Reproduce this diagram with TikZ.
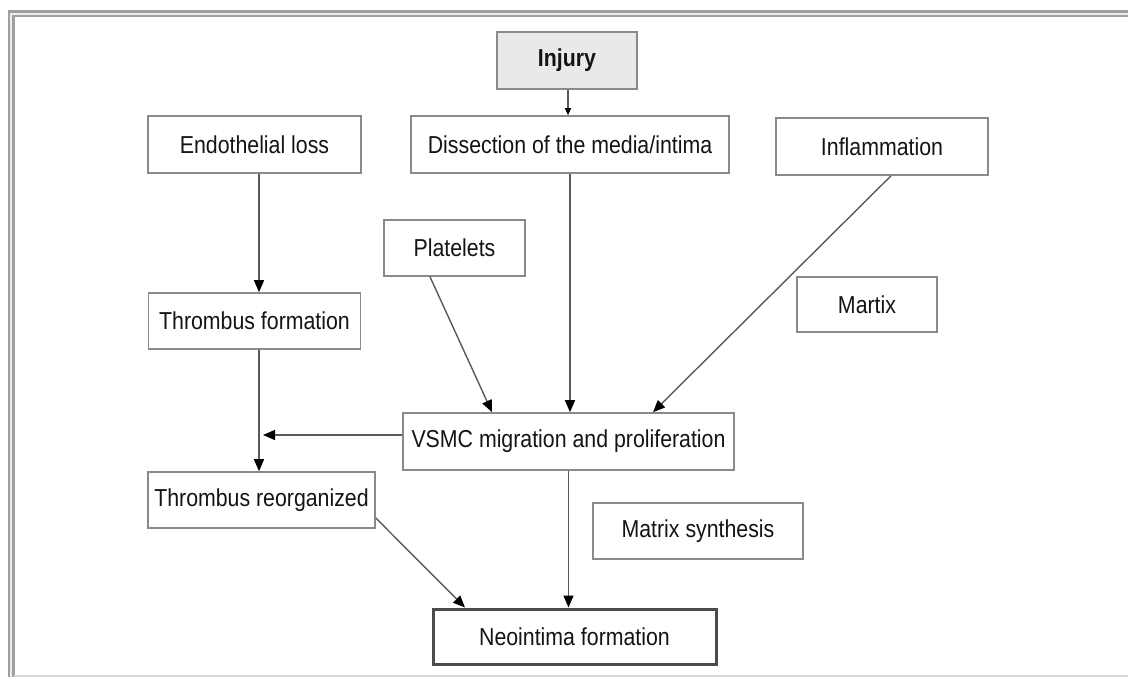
\documentclass[tikz,border=0pt]{standalone}
\usepackage{fontspec}
\setmainfont{Liberation Sans}[FakeStretch=0.87]
\usetikzlibrary{arrows.meta}
\definecolor{boxline}{HTML}{8A8A8A}
\definecolor{arrline}{HTML}{5A5A5A}
\definecolor{txt}{HTML}{141414}
\definecolor{injfill}{HTML}{E9E9E9}
\tikzset{
  box/.style={draw=boxline, line width=1.6pt, fill=white, inner sep=0pt,
    text=txt, font=\fontsize{24.5}{28}\selectfont, align=center},
  arr/.style={draw=arrline, line width=1.4pt, -{Triangle[length=12pt,width=10pt,color=black]}},
  smallarr/.style={draw=arrline, line width=1.4pt, -{Triangle[length=7pt,width=6pt,color=black]}}
}
\begin{document}
\begin{tikzpicture}[x=1pt,y=-1pt]
\useasboundingbox (0,0) rectangle (1128,677);
% frame
\draw[gray!75, line width=7pt] (11,677) -- (11,14) -- (1128,14);
\draw[gray!15, line width=2pt] (11,677) -- (11,14) -- (1128,14);
\draw[gray!30, line width=1.5pt] (14,676) -- (1128,676);
% nodes
\node[box, fill=injfill, minimum width=140, minimum height=57, font=\fontsize{24.5}{28}\selectfont\bfseries] (inj) at (567,60.5) {Injury};
\node[box, minimum width=213, minimum height=57] (endo) at (254.5,144.5) {Endothelial loss};
\node[box, minimum width=318, minimum height=57] (dis) at (570,144.5) {Dissection of the media/intima};
\node[box, minimum width=212, minimum height=57] (infl) at (882,146.5) {Inflammation};
\node[box, minimum width=141, minimum height=56] (plat) at (454.5,248) {Platelets};
\node[box, minimum width=140, minimum height=55] (mart) at (867,304.5) {Martix};
\node[box, minimum width=212, minimum height=56] (tf) at (254.5,321) {Thrombus formation};
\node[box, minimum width=331, minimum height=57] (vsmc) at (568.5,441.5) {VSMC migration and proliferation};
\node[box, minimum width=227, minimum height=56] (tr) at (261.5,500) {Thrombus reorganized};
\node[box, minimum width=210, minimum height=56] (ms) at (698,531) {Matrix synthesis};
\node[box, draw=arrline!85!black, line width=3pt, minimum width=283, minimum height=55] (neo) at (574.5,636.5) {Neointima formation};
% connectors
\coordinate (m) at (263,435);
\draw[smallarr] ([xshift=1pt]inj.south) -- ([xshift=-2pt]dis.north);
\draw[arr] ([xshift=4.5pt]endo.south) -- ([xshift=4.5pt]tf.north);
\draw[arr] ([xshift=4.5pt]tf.south) -- ([xshift=-2.5pt]tr.north);
\draw[arr] (vsmc.west |- m) -- (m);
\draw[arr] ([xshift=-24.5pt]plat.south) -- ([xshift=-76.5pt]vsmc.north);
\draw[arr] (dis.south) -- ([xshift=1.5pt]vsmc.north);
\draw[arr] ([xshift=9pt]infl.south) -- ([xshift=84.5pt]vsmc.north);
\draw[arr] (vsmc.south) -- (vsmc.south |- neo.north);
\draw[arr] ([yshift=-18pt]tr.east) -- ([xshift=-109.5pt]neo.north);
\end{tikzpicture}
\end{document}
